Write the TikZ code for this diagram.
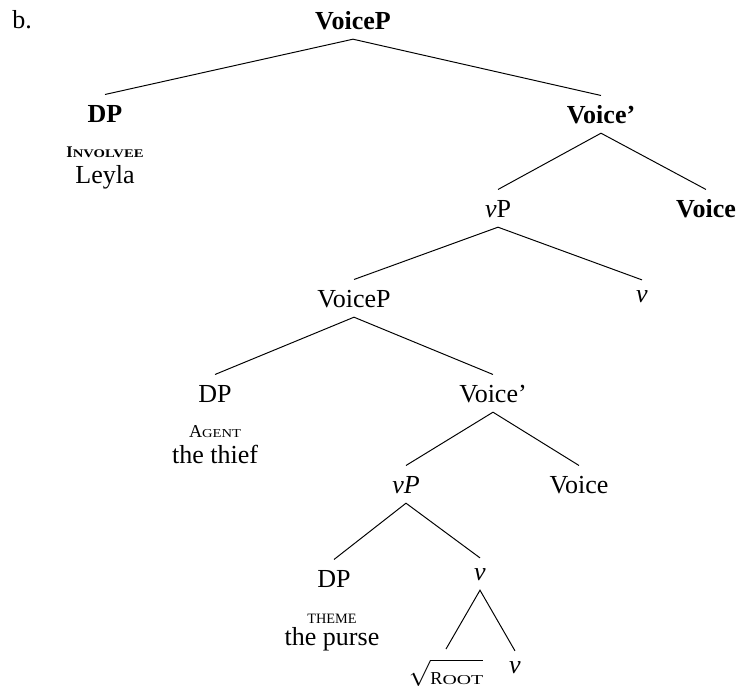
\documentclass[12pt,tikz,border=0pt]{standalone}
\usepackage{fontspec}
\setmainfont{Liberation Serif}
\usepackage{graphicx}

% small caps made by hand: first letter, then the rest smaller and widened
\newcommand{\fakesc}[5]{{\fontsize{#1}{#1}\selectfont #2}\scalebox{#4}[1]{\fontsize{#3}{#3}\selectfont #5}}

\tikzset{
  cat/.style={anchor=base, inner xsep=1pt, inner ysep=4.5pt, text height=8pt, text depth=0pt},
  lex/.style={anchor=base, inner xsep=1pt, inner ysep=4.5pt, text depth=0pt},
  role/.style={anchor=base, inner sep=0pt},
  branch/.style={line width=0.45pt},
}

\begin{document}
\begin{tikzpicture}[x=0.4615pt, y=-0.4615pt]
  \useasboundingbox (0,0) rectangle (736,691);
  \node[anchor=base west, inner sep=0pt] (ex) at (12,28) {b.};
  % upper VoiceP
  \node[cat, font=\bfseries] (VPa) at (353,29) {VoiceP};
  \node[cat, font=\bfseries] (DPa) at (105,122) {DP};
  \node[role, font=\bfseries] (roleA) at (105,157) {\fakesc{7.5}{I}{5.4}{1.25}{NVOLVEE}};
  \node[role] (wordA) at (105,183) {Leyla};
  \node[cat, font=\bfseries] (VbarA) at (601,123) {Voice’};
  \node[cat] (vPa) at (498,217) {\textit{v}P};
  \node[cat, font=\bfseries] (VoiceA) at (706,217) {Voice};
  % lower VoiceP
  \node[cat] (VPb) at (354,307) {VoiceP};
  \node[lex] (va) at (642,302) {\textit{v}};
  \node[cat] (DPb) at (215,402) {DP};
  \node[role] (roleB) at (215,437) {\fakesc{8.4}{A}{5.6}{1.2}{GENT}};
  \node[role] (wordB) at (215,463) {the thief};
  \node[cat] (VbarB) at (493,402) {Voice’};
  \node[cat] (vPb) at (406,493) {\textit{vP}};
  \node[cat] (VoiceB) at (579,493) {Voice};
  % vP
  \node[cat] (DPc) at (334,587) {DP};
  \node[lex] (vb) at (480,580) {\textit{v}};
  \node[role] (roleC) at (332,623) {\fontsize{6.6}{6.6}\selectfont THEME};
  \node[role] (wordC) at (332,645) {the purse};
  \node[lex] (root) at (446,684) {$\sqrt{\rule{0pt}{9pt}\hbox{\fakesc{8.4}{R}{6.3}{1.45}{OOT}}}$};
  \node[lex] (vc) at (515,673) {\textit{v}};

  \draw[branch] (DPa.north) -- (VPa.south) -- (VbarA.north);
  \draw[branch] (vPa.north) -- (VbarA.south) -- (VoiceA.north);
  \draw[branch] (VPb.north) -- (vPa.south) -- (va.north);
  \draw[branch] (DPb.north) -- (VPb.south) -- (VbarB.north);
  \draw[branch] (vPb.north) -- (VbarB.south) -- (VoiceB.north);
  \draw[branch] (DPc.north) -- (vPb.south) -- (vb.north);
  \draw[branch] (root.north) -- (vb.south) -- (vc.north);
\end{tikzpicture}
\end{document}
